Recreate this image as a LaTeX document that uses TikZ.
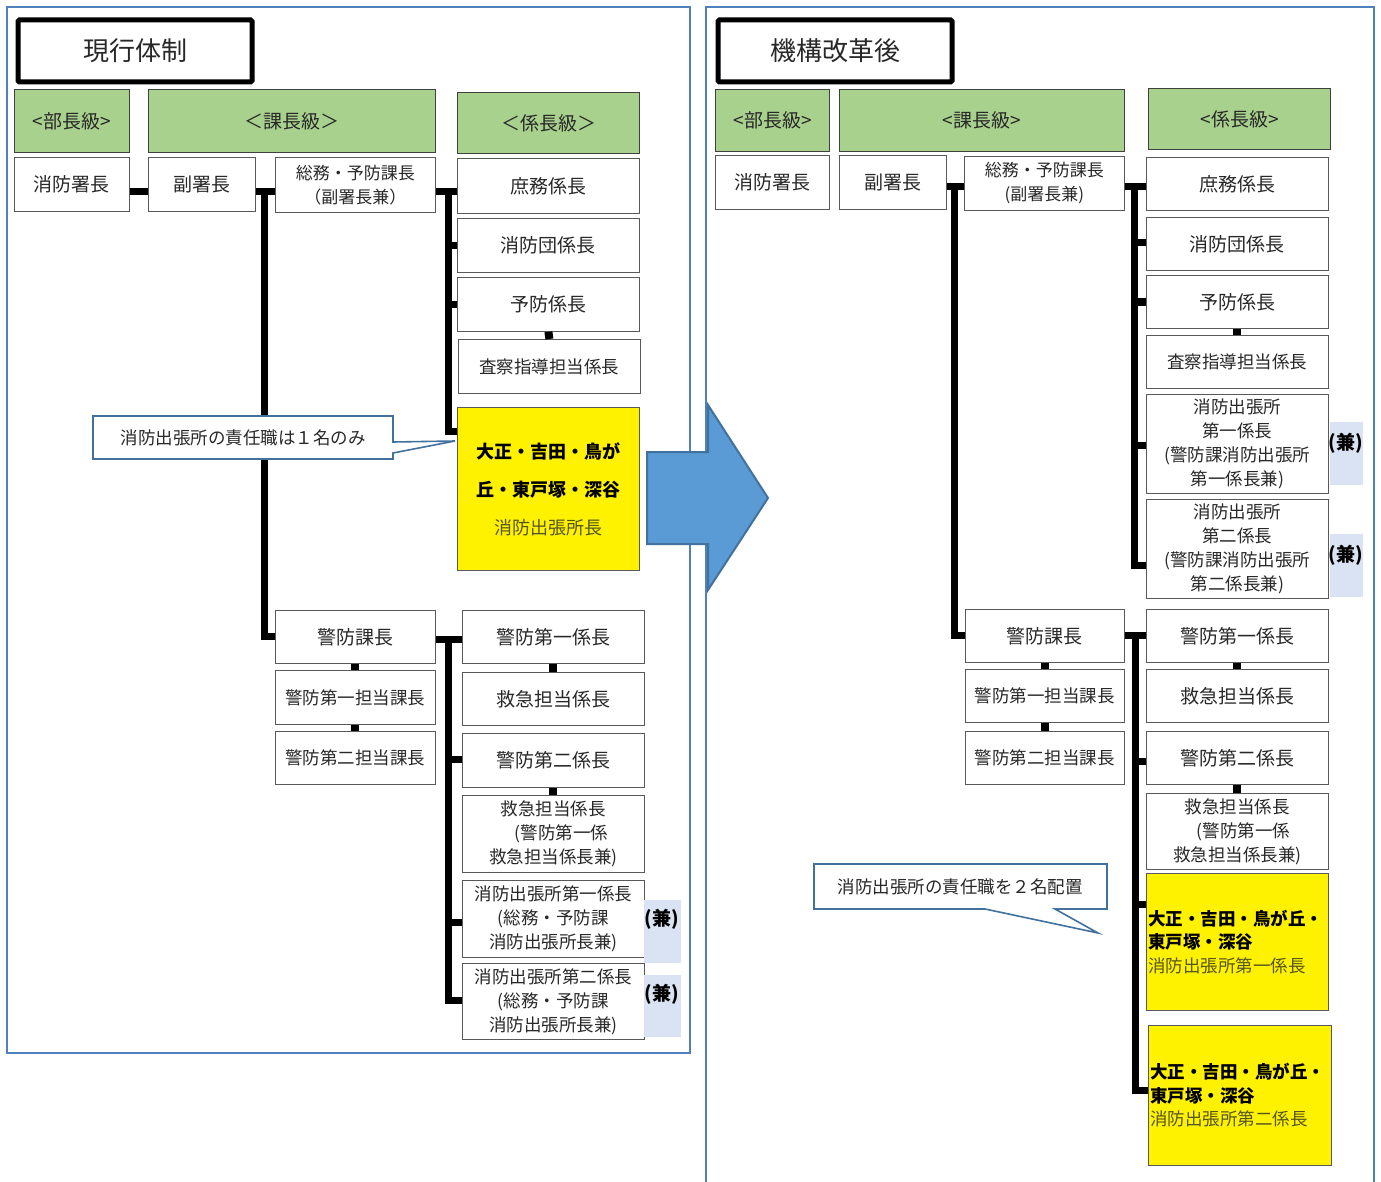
\documentclass[tikz,border=0pt]{standalone}
\usepackage{fontspec}
\setmainfont{Noto Sans CJK JP}
\definecolor{panelblue}{RGB}{79,129,189}
\definecolor{hdrgreen}{RGB}{169,209,142}
\definecolor{arrowfill}{RGB}{91,155,213}
\definecolor{arrowdraw}{RGB}{65,113,156}
\definecolor{kenblue}{RGB}{218,227,243}
\definecolor{txtgray}{RGB}{40,40,40}
\definecolor{olivetxt}{RGB}{85,85,30}
\newcommand\myfs[2]{\fontsize{#1}{#2}\selectfont}
\newcommand\mybox[7]{\node[#6,anchor=north west,minimum width={#4-#2},minimum height={#5-#3}] (#1) at (#2,#3) {#7};}
\tikzset{
  bx/.style={draw=black!65, line width=0.8pt, fill=white, inner sep=0pt, align=center, text=txtgray, font=\myfs{19}{24}},
  bxs/.style={bx, font=\myfs{17.5}{24}},
  hdr/.style={draw=black!75, line width=1pt, fill=hdrgreen, inner sep=0pt, text=txtgray, font=\myfs{19}{24}},
  ttl/.style={draw=black, line width=5pt, fill=white, rounded corners=1.5pt, inner sep=0pt, text=txtgray, font=\myfs{26}{30}},
  yel/.style={draw=black!65, line width=0.8pt, fill=yellow, inner sep=0pt, align=center, text=black},
  kenbox/.style={fill=kenblue, inner sep=0pt},
  kentxt/.style={inner sep=0pt, text=black, font=\bfseries\myfs{19}{24}},
  conn/.style={line width=7pt, black, line join=miter},
  sqc/.style={line width=8pt, black},
  panel/.style={draw=panelblue, line width=2pt},
  callout/.style={draw=arrowdraw, line width=1.6pt, fill=white, line join=miter},
  calltxt/.style={inner sep=0pt, text=txtgray, font=\myfs{17.5}{20}},
}
\begin{document}
\begin{tikzpicture}[x=1pt,y=-1pt]
\useasboundingbox (0,0) rectangle (1381,1182);
% panels
\draw[panel] (7,7) rectangle (690,1053);
\draw[panel] (706,1182) -- (706,7) -- (1374,7) -- (1374,1182);

% ---------------- left nodes ----------------
\mybox{Lttl}{15.5}{17.5}{249.5}{79.5}{ttl}{現行体制}
\mybox{Lh1}{14}{89}{129}{152}{hdr}{<部長級>}
\mybox{Lh2}{148}{89}{435}{152}{hdr}{＜課長級＞}
\mybox{Lh3}{457}{92}{639}{153}{hdr}{＜係長級＞}

\mybox{L-cho}{14}{157}{129}{211}{bx}{消防署長}
\mybox{L-fuku}{148}{157}{255}{211}{bx}{副署長}
\mybox{L-somu}{275}{157}{435}{212}{bx,font=\myfs{17}{24}}{総務・予防課長\\（副署長兼）}
\mybox{L-shomu}{457}{158}{639}{213}{bx}{庶務係長}
\mybox{L-dan}{457}{218}{639}{272}{bx}{消防団係長}
\mybox{L-yobo}{457}{277}{639}{331}{bx}{予防係長}
\mybox{L-sasa}{458}{339}{640}{393}{bxs}{査察指導担当係長}
\mybox{L-yel}{457}{407}{639}{570}{yel,font=\myfs{18}{38}}{\textbf{大正・吉田・鳥が}\\\textbf{丘・東戸塚・深谷}\\\textcolor{olivetxt}{消防出張所長}}

\mybox{L-keibo}{275}{610}{435}{663}{bx}{警防課長}
\mybox{L-t1}{275}{670}{435}{724}{bxs}{警防第一担当課長}
\mybox{L-t2}{275}{731}{435}{784}{bxs}{警防第二担当課長}
\mybox{L-k1}{462}{610}{644}{663}{bx}{警防第一係長}
\mybox{L-kyu1}{462}{672}{644}{725}{bx}{救急担当係長}
\mybox{L-k2}{462}{733}{644}{787}{bx}{警防第二係長}
\mybox{L-kyu2}{462}{795}{644}{872}{bxs}{救急担当係長\\\hspace*{16pt}(警防第一係\\救急担当係長兼)}
\mybox{L-s1}{462}{880}{644}{957}{bxs}{消防出張所第一係長\\(総務・予防課\\消防出張所長兼)}
\mybox{L-s2}{462}{963}{644}{1039}{bxs}{消防出張所第二係長\\(総務・予防課\\消防出張所長兼)}

% ---------------- right nodes ----------------
\mybox{Rttl}{715.5}{17.5}{949.5}{79.5}{ttl}{機構改革後}
\mybox{Rh1}{715}{89}{829}{151}{hdr}{<部長級>}
\mybox{Rh2}{839}{89}{1124}{151}{hdr}{<課長級>}
\mybox{Rh3}{1148}{88}{1330}{149}{hdr}{<係長級>}

\mybox{R-cho}{715}{155}{829}{209}{bx}{消防署長}
\mybox{R-fuku}{839}{155}{946}{209}{bx}{副署長}
\mybox{R-somu}{964}{156}{1124}{210}{bx,font=\myfs{17}{24}}{総務・予防課長\\(副署長兼)}
\mybox{R-shomu}{1146}{157}{1328}{210}{bx}{庶務係長}
\mybox{R-dan}{1146}{217}{1328}{270}{bx}{消防団係長}
\mybox{R-yobo}{1146}{275}{1328}{328}{bx}{予防係長}
\mybox{R-sasa}{1146}{335}{1328}{388}{bxs}{査察指導担当係長}
\mybox{R-s1}{1146}{394}{1328}{493}{bxs}{消防出張所\\第一係長\\(警防課消防出張所\\第一係長兼)}
\mybox{R-s2}{1146}{499}{1328}{598}{bxs}{消防出張所\\第二係長\\(警防課消防出張所\\第二係長兼)}

\mybox{R-keibo}{965}{609}{1124}{662}{bx}{警防課長}
\mybox{R-t1}{965}{669}{1124}{722}{bxs}{警防第一担当課長}
\mybox{R-t2}{965}{731}{1124}{784}{bxs}{警防第二担当課長}
\mybox{R-k1}{1146}{609}{1328}{662}{bx}{警防第一係長}
\mybox{R-kyu1}{1146}{669}{1328}{722}{bx}{救急担当係長}
\mybox{R-k2}{1146}{731}{1328}{784}{bx}{警防第二係長}
\mybox{R-kyu2}{1146}{793}{1328}{869}{bxs}{救急担当係長\\\hspace*{12pt}(警防第一係\\救急担当係長兼)}
\mybox{R-y1}{1146}{873}{1328}{1010}{yel,align=left,text width=178pt,inner xsep=2pt,font=\myfs{17.5}{23.5}}{\textbf{大正・吉田・鳥が丘・}\\\textbf{東戸塚・深谷}\\\textcolor{olivetxt}{消防出張所第一係長}}
\mybox{R-y2}{1148}{1025}{1331}{1165}{yel,align=left,text width=179pt,inner xsep=2pt,font=\myfs{17.5}{23.5}}{\textbf{大正・吉田・鳥が丘・}\\\textbf{東戸塚・深谷}\\\textcolor{olivetxt}{消防出張所第二係長}}

% ---------------- connectors ----------------
\coordinate (LtA) at (264,192);
\coordinate (LtB) at (448,192);
\coordinate (LtC) at (448,639);
\coordinate (RtA) at (954,187);
\coordinate (RtB) at (1134,187);
\coordinate (RtC) at (1135,635);

\draw[conn] (L-cho.east |- LtA) -- (L-fuku.west |- LtA);
\draw[conn] (L-fuku.east |- LtA) -- (L-somu.west |- LtA);
\draw[conn] (LtA) -- (LtA |- L-keibo.west) -- (L-keibo.west);
\draw[conn] (L-somu.east |- LtB) -- (L-shomu.west |- LtB);
\draw[conn] (LtB) |- (L-yel.west |- 0,431);
\draw[conn] (LtB |- L-dan.west) -- (L-dan.west);
\draw[conn] (LtB |- L-yobo.west) -- (L-yobo.west);
\draw[sqc] (L-yobo.south) -- (L-sasa.north);
\draw[conn] (L-keibo.east |- LtC) -- (L-k1.west |- LtC);
\draw[conn] (LtC) |- (L-s2.west |- 0,1000);
\draw[conn] (LtC |- 0,759) -- (L-k2.west |- 0,759);
\draw[conn] (LtC |- 0,922) -- (L-s1.west |- 0,922);
\draw[sqc] (L-keibo.south) -- (L-t1.north);
\draw[sqc] (L-t1.south) -- (L-t2.north);
\draw[sqc] (L-k1.south) -- (L-kyu1.north);
\draw[sqc] (L-k2.south) -- (L-kyu2.north);

\draw[conn] (R-fuku.east |- RtA) -- (R-somu.west |- RtA);
\draw[conn] (RtA) |- (R-keibo.west |- 0,635);
\draw[conn] (R-somu.east |- RtB) -- (R-shomu.west |- RtB);
\draw[conn] (RtB) |- (R-s2.west |- 0,565);
\draw[conn] (RtB |- 0,243) -- (R-dan.west |- 0,243);
\draw[conn] (RtB |- 0,302) -- (R-yobo.west |- 0,302);
\draw[conn] (RtB |- 0,445) -- (R-s1.west |- 0,445);
\draw[sqc] (R-yobo.south) -- (R-sasa.north);
\draw[conn] (R-keibo.east |- RtC) -- (R-k1.west |- RtC);
\draw[conn] (RtC) |- (R-y2.west |- 0,1090);
\draw[conn] (RtC |- 0,761) -- (R-k2.west |- 0,761);
\draw[conn] (RtC |- 0,904) -- (R-y1.west |- 0,904);
\draw[sqc] (R-keibo.south) -- (R-t1.north);
\draw[sqc] (R-t1.south) -- (R-t2.north);
\draw[sqc] (R-k1.south) -- (R-kyu1.north);
\draw[sqc] (R-k2.south) -- (R-kyu2.north);

% ---------------- (兼) labels ----------------
\mybox{Lkb1}{644}{900}{681}{963}{kenbox}{}
\mybox{Lkb2}{644}{975}{681}{1037}{kenbox}{}
\mybox{Rkb1}{1330}{422}{1363}{485}{kenbox}{}
\mybox{Rkb2}{1330}{534}{1363}{597}{kenbox}{}
\node[kentxt] (Lkt1) at (662,919) {(兼)};
\node[kentxt] (Lkt2) at (662,994) {(兼)};
\node[kentxt] (Rkt1) at (1346,443) {(兼)};
\node[kentxt] (Rkt2) at (1346,555) {(兼)};

% ---------------- callouts ----------------
\draw[callout] (93,416) -- (393,416) -- (393,442) -- (455,441) -- (393,453) -- (393,459) -- (93,459) -- cycle;
\node[calltxt] (cL) at (243,438) {消防出張所の責任職は１名のみ};
\draw[callout] (814,864) -- (1107,864) -- (1107,909) -- (1055,909) -- (1098,933) -- (985,909) -- (814,909) -- cycle;
\node[calltxt] (cR) at (960,887) {消防出張所の責任職を２名配置};

% ---------------- big arrow ----------------
\draw[fill=arrowfill, draw=arrowdraw, line width=2pt, line join=miter]
  (647,452) -- (708,452) -- (708,405) -- (768,498) -- (708,590) -- (708,544) -- (647,544) -- cycle;
\end{tikzpicture}
\end{document}
